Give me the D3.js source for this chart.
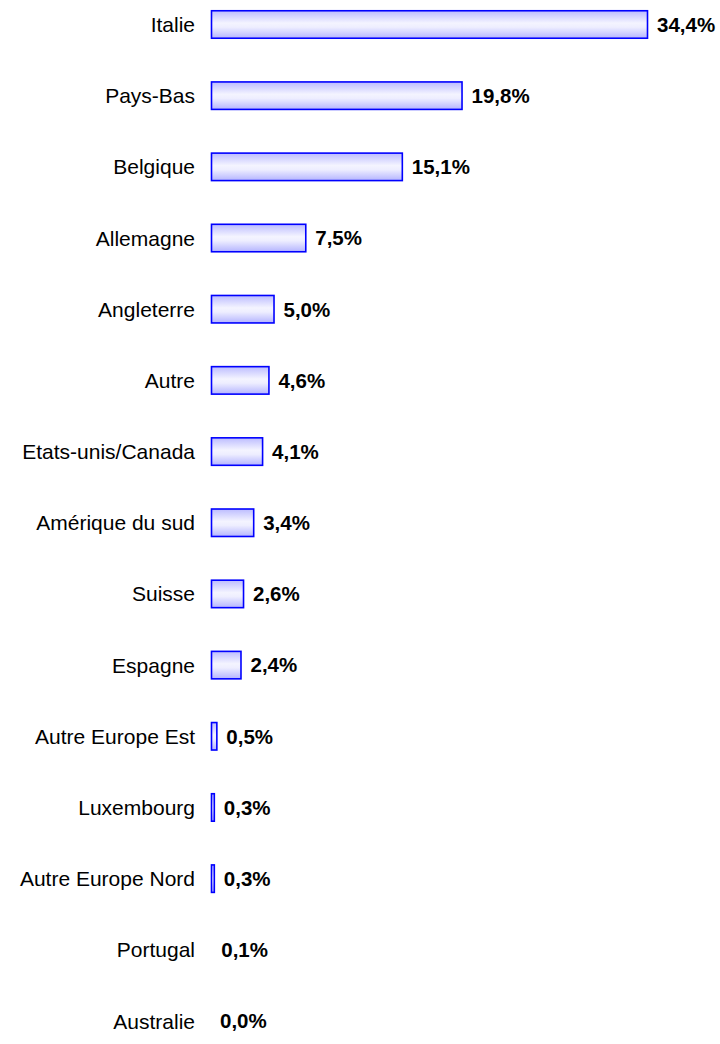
<!DOCTYPE html>
<html><head><meta charset="utf-8">
<script src="https://cdn.jsdelivr.net/npm/d3@7"></script>
<style>body{margin:0;background:#fff}svg{display:block}</style>
</head><body>
<script>
const categories = ["Italie","Pays-Bas","Belgique","Allemagne","Angleterre","Autre","Etats-unis/Canada","Amérique du sud","Suisse","Espagne","Autre Europe Est","Luxembourg","Autre Europe Nord","Portugal","Australie"];
const values = [34.4,19.8,15.1,7.5,5.0,4.6,4.1,3.4,2.6,2.4,0.5,0.3,0.3,0.1,0.0];
const valueLabels = ["34,4%","19,8%","15,1%","7,5%","5,0%","4,6%","4,1%","3,4%","2,6%","2,4%","0,5%","0,3%","0,3%","0,1%","0,0%"];

const W=720,H=1044;
const svg=d3.select("body").append("svg").attr("width",W).attr("height",H);
const defs=svg.append("defs");
const g=defs.append("linearGradient").attr("id","bg").attr("x1",0).attr("y1",0).attr("x2",0).attr("y2",1);
g.append("stop").attr("offset","0%").attr("stop-color","#bcbcff");
g.append("stop").attr("offset","45%").attr("stop-color","#f4f4ff");
g.append("stop").attr("offset","60%").attr("stop-color","#eeeeff");
g.append("stop").attr("offset","100%").attr("stop-color","#b4b4ff");

const x=d3.scaleLinear().domain([0,34.4]).range([211,648]);
const y=d3.scaleBand().domain(categories).range([-11.1,1056.6]).paddingInner(0.6).paddingOuter(0.3);
const data=categories.map((c,i)=>({c,v:values[i],l:valueLabels[i]}));

svg.selectAll("rect.bar").data(data.filter(d=>x(d.v)-x(0)>=2)).join("rect").attr("class","bar")
 .attr("x",x(0)+0.5).attr("y",d=>y(d.c)+0.5).attr("width",d=>x(d.v)-x(0)-1).attr("height",y.bandwidth()-1)
 .attr("fill","url(#bg)").attr("stroke","#0000ff").attr("stroke-width",1.6);

svg.selectAll("text.cat").data(data).join("text").attr("class","cat")
 .attr("x",195).attr("y",d=>y(d.c)+y.bandwidth()/2).attr("dy","0.36em").attr("text-anchor","end")
 .attr("font-family","Liberation Sans, Arial, sans-serif").attr("font-size",21).attr("fill","#000").text(d=>d.c);

svg.selectAll("text.val").data(data).join("text").attr("class","val")
 .attr("x",d=>x(d.v)+9).attr("y",d=>y(d.c)+y.bandwidth()/2).attr("dy","0.36em")
 .attr("font-family","Liberation Sans, Arial, sans-serif").attr("font-weight","bold").attr("font-size",20.5).attr("fill","#000").text(d=>d.l);
</script>
</body></html>
